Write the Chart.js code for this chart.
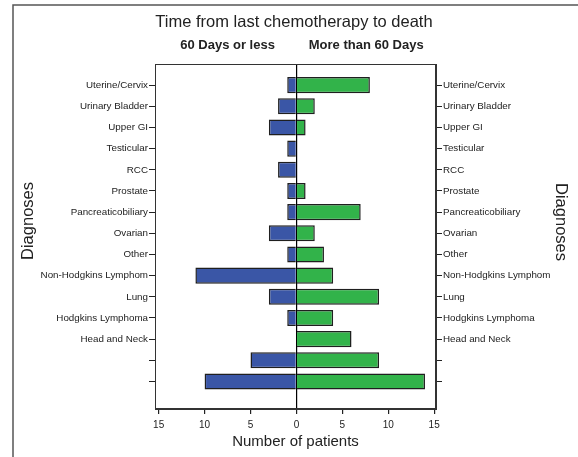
<!DOCTYPE html>
<html>
<head>
<meta charset="utf-8">
<script src="https://cdn.jsdelivr.net/npm/chart.js@4"></script>
<style>
  html, body { margin: 0; padding: 0; background: #fff; }
  #wrap { width: 578px; height: 457px; }
</style>
</head>
<body>
<div id="wrap"><canvas id="myChart" width="578" height="457"></canvas></div>
<script>
const diagnoses = [
  "Uterine/Cervix", "Urinary Bladder", "Upper GI", "Testicular", "RCC",
  "Prostate", "Pancreaticobiliary", "Ovarian", "Other", "Non-Hodgkins Lymphom",
  "Lung", "Hodgkins Lymphoma", "Head and Neck", "", ""
]
// counts of patients per diagnosis
const lessThan60 = [1, 2, 3, 1, 2, 1, 1, 3, 1, 11, 3, 1, 0, 5, 10]
const moreThan60 = [8, 2, 1, 0, 0, 1, 7, 2, 3, 4, 9, 4, 6, 9, 14]
const xTicks = [-15, -10, -5, 0, 5, 10, 15]

const FONT = "'Liberation Sans', Arial, sans-serif"
const rowTicks = diagnoses.map((d, i) => i + 1)

function rowAxis(position) {
  return {
    type: "linear",
    position: position,
    reverse: true,
    offset: false,
    min: 0,
    max: 16.3,
    afterBuildTicks: (scale) => { scale.ticks = rowTicks.map((v) => ({ value: v })) },
    afterFit: (scale) => { scale.width = position === "left" ? 140 : 139 },
    ticks: {
      padding: 1,
      color: "#222",
      font: { family: FONT, size: 9.8 },
      callback: (v) => diagnoses[v - 1]
    },
    grid: { offset: false, drawOnChartArea: false, tickLength: 6, tickColor: "#222" },
    border: { display: true, color: "#333", width: 1 }
  }
}

const frame = {
  id: "frame",
  afterDraw(chart) {
    const c = chart.ctx
    const a = chart.chartArea
    const x = chart.scales.x
    c.save()
    // outer frame (left + top)
    c.strokeStyle = "#555"
    c.lineWidth = 1.5
    c.beginPath()
    c.moveTo(13, 457)
    c.lineTo(13, 5)
    c.lineTo(578, 5)
    c.stroke()
    // plot box
    c.strokeStyle = "#333"
    c.lineWidth = 1
    c.strokeRect(a.left + 0.5, a.top + 0.5, a.right - a.left - 1, a.bottom - a.top - 1)
    // titles
    c.fillStyle = "#222"
    c.textAlign = "center"
    c.textBaseline = "middle"
    c.font = "16.5px " + FONT
    c.fillText("Time from last chemotherapy to death", 294, 22)
    c.font = "bold 13px " + FONT
    c.fillText("60 Days or less", x.getPixelForValue(-7.5), 45)
    c.fillText("More than 60 Days", x.getPixelForValue(7.6), 45)
    // axis titles on both sides
    c.font = "16.5px " + FONT
    c.save()
    c.translate(28.5, 221)
    c.rotate(-Math.PI / 2)
    c.fillText("Diagnoses", 0, 0)
    c.restore()
    c.save()
    c.translate(561, 222)
    c.rotate(Math.PI / 2)
    c.fillText("Diagnoses", 0, 0)
    c.restore()
    c.restore()
  }
}

const ctx = document.getElementById("myChart")
new Chart(ctx, {
  type: "bar",
  data: {
    datasets: [{
      label: "60 Days or less",
      data: lessThan60.map((v, i) => ({ x: -v, y: i + 1 })),
      backgroundColor: "#3a56a6",
      borderColor: "#1f1f1f",
      borderWidth: 1.5,
      grouped: false,
      categoryPercentage: 1,
      barPercentage: 0.76
    }, {
      label: "More than 60 Days",
      data: moreThan60.map((v, i) => ({ x: v, y: i + 1 })),
      backgroundColor: "#32b34a",
      borderColor: "#1f1f1f",
      borderWidth: 1.5,
      grouped: false,
      categoryPercentage: 1,
      barPercentage: 0.76
    }]
  },
  options: {
    indexAxis: "y",
    responsive: false,
    animation: false,
    layout: { padding: { left: 15, right: 3, top: 64, bottom: 2 } },
    plugins: { legend: { display: false }, tooltip: { enabled: false } },
    scales: {
      x: {
        type: "linear",
        min: -15.4,
        max: 15.2,
        afterBuildTicks: (scale) => { scale.ticks = xTicks.map((v) => ({ value: v })) },
        afterFit: (scale) => { scale.height = 46 },
        ticks: {
          padding: 5,
          color: "#222",
          font: { family: FONT, size: 10 },
          callback: (v) => Math.abs(v)
        },
        grid: {
          drawOnChartArea: true,
          tickLength: 5,
          tickColor: "#222",
          color: (c) => (c.tick && c.tick.value === 0 ? "#000" : "rgba(0,0,0,0)"),
          lineWidth: 1.2
        },
        border: { display: true, color: "#333" },
        title: {
          display: true,
          text: "Number of patients",
          color: "#222",
          font: { family: FONT, size: 15 },
          padding: { top: 2, bottom: 4 }
        }
      },
      y: rowAxis("left"),
      y2: rowAxis("right")
    }
  },
  plugins: [frame]
})
</script>
</body>
</html>
